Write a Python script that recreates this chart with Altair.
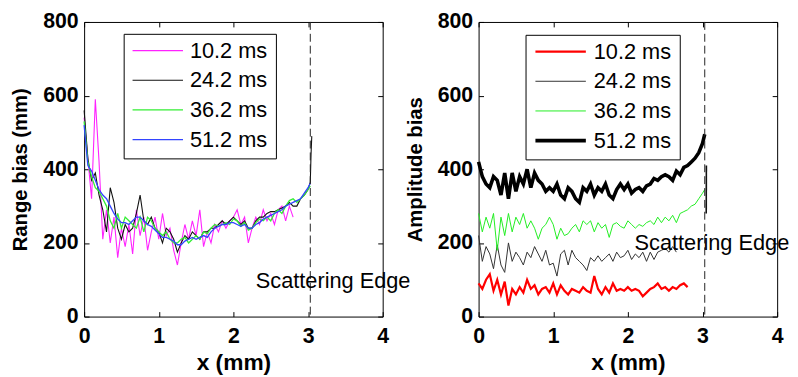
import altair as alt
import pandas as pd

FONT = "Liberation Sans"
W, H = 302, 298

X_GRID = [0.00, 0.05, 0.10, 0.15, 0.20, 0.25, 0.30, 0.35, 0.40, 0.45,
          0.50, 0.55, 0.60, 0.65, 0.70, 0.75, 0.80, 0.85, 0.90, 0.95,
          1.00, 1.05, 1.10, 1.15, 1.20, 1.25, 1.30, 1.35, 1.40, 1.45,
          1.50, 1.55, 1.60, 1.65, 1.70, 1.75, 1.80, 1.85, 1.90, 1.95,
          2.00, 2.05, 2.10, 2.15, 2.20, 2.25, 2.30, 2.35, 2.40, 2.45,
          2.50, 2.55, 2.60, 2.65, 2.70, 2.75, 2.80, 2.85, 2.90, 2.95,
          3.00]

LABELS = ["10.2 ms", "24.2 ms", "36.2 ms", "51.2 ms"]
X_TICKS = [0, 1, 2, 3, 4]
Y_TICKS = [0, 200, 400, 600, 800]
EDGE_X = [3.03]

# ---- Left panel: Range bias (mm) ----
RANGE_10 = [540, 430, 320, 590, 420, 210, 290, 200, 270, 160,
            240, 190, 250, 170, 290, 220, 270, 180, 230, 270,
            210, 280, 220, 240, 180, 140, 200, 250, 210, 260,
            220, 290, 190, 230, 200, 250, 230, 260, 240, 260,
            270, 290, 250, 270, 200, 240, 270, 250, 290, 260,
            280, 250, 290, 300, 260, 300, 270]
RANGE_24 = [560, 430, 370, 390, 330, 290, 230, 350, 310, 240,
            210, 250, 230, 240, 280, 330, 260, 250, 270, 240,
            230, 200, 240, 230, 210, 175, 200, 220, 210, 230,
            220, 210, 230, 230, 240, 240, 250, 260, 250, 260,
            270, 260, 250, 260, 240, 240, 260, 270, 270, 280,
            285, 285, 290, 295, 300, 310, 300, 300, 320, 330,
            345]
RANGE_24_TAIL_X = [3.03, 3.04, 3.05]
RANGE_24_TAIL = [365, 440, 490]
RANGE_36 = [530, 420, 380, 350, 340, 320, 300, 260, 240, 280,
            240, 270, 260, 250, 240, 270, 230, 270, 260, 240,
            230, 220, 230, 210, 200, 200, 210, 215, 200, 210,
            220, 210, 230, 225, 240, 250, 245, 250, 255, 250,
            265, 260, 245, 255, 235, 240, 255, 265, 260, 270,
            260, 280, 290, 280, 300, 315, 320, 310, 320, 330,
            345]
RANGE_36_TAIL_X = [3.03]
RANGE_36_TAIL = [355]
RANGE_51 = [520, 410, 395, 370, 345, 330, 320, 300, 280, 265,
            255, 255, 250, 260, 270, 270, 260, 250, 245, 235,
            225, 215, 215, 210, 205, 195, 195, 205, 210, 215,
            210, 215, 220, 215, 230, 240, 245, 250, 250, 255,
            255, 250, 245, 250, 240, 240, 250, 255, 265, 270,
            275, 280, 285, 290, 300, 305, 310, 315, 320, 335,
            350]
RANGE_51_TAIL_X = [3.03]
RANGE_51_TAIL = [362]

# ---- Right panel: Amplitude bias ----
AMP_10 = [90, 75, 100, 115, 70, 100, 60, 95, 30, 75,
          60, 80, 65, 100, 75, 85, 60, 75, 80, 65,
          90, 60, 85, 70, 60, 75, 70, 65, 80, 70,
          65, 110, 75, 60, 80, 65, 90, 70, 75, 70,
          80, 70, 75, 70, 55, 65, 75, 80, 90, 75,
          80, 70, 80, 75, 85, 90, 80]
AMP_24 = [220, 150, 190, 170, 130, 195, 140, 120, 200, 150,
          175, 160, 140, 175, 160, 190, 170, 150, 180, 140,
          145, 110, 170, 180, 140, 180, 160, 150, 140, 125,
          160, 150, 165, 150, 160, 170, 150, 175, 160, 165,
          180, 155, 170, 160, 175, 150, 175, 155, 175, 180,
          185, 175, 190, 175]
AMP_24_TAIL_X = [3.05, 3.052]
AMP_24_TAIL = [280, 410]
AMP_36 = [280, 230, 270, 240, 280, 180, 270, 220, 280, 230,
          270, 250, 280, 240, 260, 240, 210, 240, 250, 270,
          250, 210, 240, 220, 225, 240, 250, 230, 260, 250,
          260, 230, 255, 240, 250, 215, 250, 255, 245, 240,
          260, 250, 240, 250, 245, 255, 260, 250, 270, 255,
          270, 260, 275, 255, 280, 285, 290, 300, 305, 320,
          335]
AMP_36_TAIL_X = [3.03]
AMP_36_TAIL = [345]
AMP_51 = [420, 380, 360, 350, 380, 370, 330, 390, 320, 390,
          340, 380, 360, 400, 350, 390, 370, 360, 340, 350,
          340, 360, 330, 320, 350, 340, 320, 310, 350, 340,
          360, 330, 350, 340, 360, 330, 320, 345, 360, 345,
          360, 335, 345, 350, 340, 355, 360, 375, 370, 380,
          385, 380, 370, 395, 385, 405, 410, 420, 430, 445,
          470]
AMP_51_TAIL_X = [3.03]
AMP_51_TAIL = [495]

LEFT_COLORS = ["#ff22ff", "#111111", "#33ee33", "#3344ff"]
LEFT_WIDTHS = [1.1, 1.1, 1.3, 1.3]
RIGHT_COLORS = ["#ff0000", "#333333", "#22ee22", "#000000"]
RIGHT_WIDTHS = [2.2, 1.0, 1.0, 3.6]

EDGE_TEXT = ["Scattering Edge"]
LEFT_TEXT_POS = ([2.30], [77])
RIGHT_TEXT_POS = ([2.09], [180])


def make_df(series):
    rows = []
    for label, xs, ys in series:
        for i, (xv, yv) in enumerate(zip(xs, ys)):
            rows.append({"series": label, "x": xv, "v": yv, "i": i})
    return pd.DataFrame(rows)


left_df = make_df([
    (LABELS[0], X_GRID[:len(RANGE_10)], RANGE_10),
    (LABELS[1], X_GRID + RANGE_24_TAIL_X, RANGE_24 + RANGE_24_TAIL),
    (LABELS[2], X_GRID + RANGE_36_TAIL_X, RANGE_36 + RANGE_36_TAIL),
    (LABELS[3], X_GRID + RANGE_51_TAIL_X, RANGE_51 + RANGE_51_TAIL),
])
right_df = make_df([
    (LABELS[0], X_GRID[:len(AMP_10)], AMP_10),
    (LABELS[1], X_GRID[:len(AMP_24)], AMP_24),
    (LABELS[2], X_GRID + AMP_36_TAIL_X, AMP_36 + AMP_36_TAIL),
    (LABELS[3], X_GRID + AMP_51_TAIL_X, AMP_51 + AMP_51_TAIL),
])
# short thin segment drawn at the scattering edge in the amplitude panel
edge_seg_df = pd.DataFrame({"x": AMP_24_TAIL_X, "v": AMP_24_TAIL})


def tick_axis(orient, offset):
    return alt.Axis(orient=orient, offset=offset, labels=False, ticks=True,
                    tickSize=5, tickColor="black", domain=False, grid=False,
                    title=None, values=X_TICKS if orient in ("top", "bottom") else Y_TICKS)


def panel(df, colors, widths, ytitle, text_pos, lx, ly, extra=None):
    xs = alt.Scale(domain=[0, 4], nice=False, zero=False)
    ys = alt.Scale(domain=[0, 800], nice=False, zero=False)
    leg = alt.Legend(orient="none", legendX=lx, legendY=ly, title=None,
                     fillColor="white", strokeColor="black", padding=8,
                     symbolType="stroke", symbolSize=2601, labelFont=FONT,
                     labelFontSize=22, labelColor="black", labelOffset=6,
                     rowPadding=8, clipHeight=18, cornerRadius=0, labelLimit=300)
    lines = alt.Chart(df).mark_line().encode(
        x=alt.X("x:Q", scale=xs, axis=alt.Axis(
            orient="bottom", values=X_TICKS, ticks=False, tickSize=0,
            labelFlush=False, labelPadding=9, title="x (mm)",
            titleFontSize=23, titlePadding=5)),
        y=alt.Y("v:Q", scale=ys, axis=alt.Axis(
            orient="left", values=Y_TICKS, ticks=False, tickSize=0,
            labelPadding=6, title=ytitle, titleFontSize=20.5, titlePadding=12)),
        color=alt.Color("series:N", scale=alt.Scale(domain=LABELS, range=colors), legend=leg),
        strokeWidth=alt.StrokeWidth("series:N", scale=alt.Scale(domain=LABELS, range=widths, type="ordinal"), legend=leg),
        order="i:Q",
    )
    edge_df = pd.DataFrame({"x": EDGE_X})
    rule = alt.Chart(edge_df).mark_rule(color="#222222", strokeWidth=1, strokeDash=[8, 4]).encode(
        x=alt.X("x:Q", scale=xs, axis=tick_axis("top", -H)),
    )
    txt_df = pd.DataFrame({"x": text_pos[0], "v": text_pos[1], "t": EDGE_TEXT})
    text = alt.Chart(txt_df).mark_text(align="left", baseline="alphabetic", font=FONT,
                                       fontSize=22, color="black").encode(
        x=alt.X("x:Q", scale=xs, axis=tick_axis("bottom", -H)),
        y=alt.Y("v:Q", scale=ys, axis=tick_axis("right", -W)),
        text="t:N",
    )
    ghost = alt.Chart(txt_df).mark_point(opacity=0).encode(
        x=alt.X("x:Q", scale=xs, axis=None),
        y=alt.Y("v:Q", scale=ys, axis=tick_axis("left", -W)),
    )
    layers = [lines, rule, text, ghost]
    if extra is not None:
        layers.append(alt.Chart(extra).mark_line(color="#111111", strokeWidth=1.6).encode(
            x=alt.X("x:Q", scale=xs, axis=None),
            y=alt.Y("v:Q", scale=ys, axis=None),
        ))
    return alt.layer(*layers).resolve_axis(
        x="independent", y="independent").properties(width=W, height=H)


left = panel(left_df, LEFT_COLORS, LEFT_WIDTHS, "Range bias (mm)", LEFT_TEXT_POS, 40, 12)
right = panel(right_df, RIGHT_COLORS, RIGHT_WIDTHS, "Amplitude bias", RIGHT_TEXT_POS, 47.5, 13,
              extra=edge_seg_df)

chart = alt.hconcat(left, right, spacing=97, bounds="flush").resolve_scale(
    color="independent", strokeWidth="independent"
).resolve_legend(
    color="independent", strokeWidth="independent"
).properties(
    padding={"left": 2, "top": 0, "right": 0, "bottom": 0}
).configure_view(
    stroke="black", strokeWidth=1
).configure_axis(
    labelFont=FONT, labelFontSize=21.5, labelFontWeight="bold", labelColor="black",
    titleFont=FONT, titleFontWeight="bold", titleColor="black",
    grid=False, domain=False
)

chart.save("out.html", embed_options={"renderer": "svg", "actions": False})
